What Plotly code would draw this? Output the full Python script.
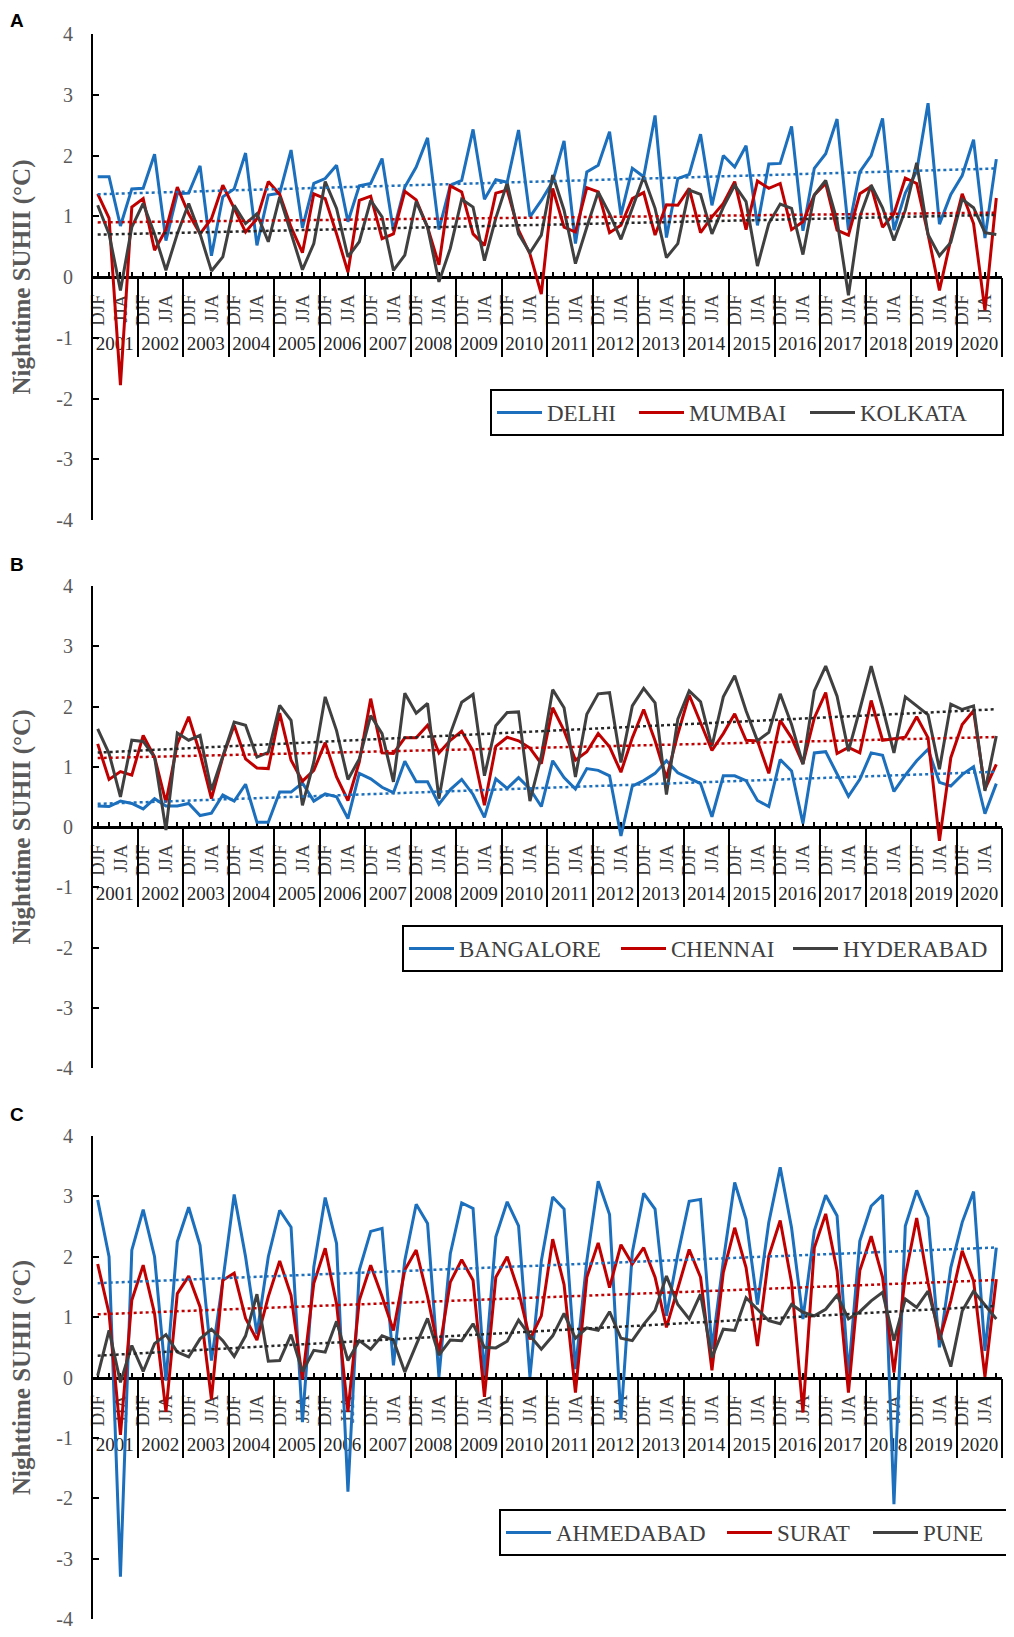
import numpy as np
import plotly.graph_objects as go

# x categories: four seasons per year, only DJF and JJA are labelled
YEARS = [str(y) for y in range(2001, 2021)]
SEASONS = ["DJF", "MAM", "JJA", "SON"]
LABELLED_SEASONS = ["DJF", "JJA"]
Y_TICKS = [-4, -3, -2, -1, 0, 1, 2, 3, 4]

# nighttime SUHII (deg C), one value per season, DJF 2001 ... SON 2020
DELHI = [1.65, 1.65, 0.84, 1.45, 1.46, 2.02, 0.60, 1.37, 1.38, 1.83, 0.35, 1.32, 1.45, 2.04, 0.52, 1.35,
         1.38, 2.09, 0.81, 1.54, 1.62, 1.84, 0.91, 1.50, 1.54, 1.95, 0.76, 1.48, 1.81, 2.29, 0.78, 1.51,
         1.59, 2.43, 1.28, 1.60, 1.56, 2.42, 0.99, 1.26, 1.57, 2.24, 0.55, 1.73, 1.84, 2.39, 1.02, 1.79,
         1.65, 2.66, 0.65, 1.62, 1.69, 2.35, 1.18, 2.00, 1.81, 2.16, 0.85, 1.86, 1.87, 2.48, 0.76, 1.79,
         2.03, 2.60, 0.77, 1.73, 2.00, 2.61, 0.77, 1.38, 1.74, 2.86, 0.87, 1.36, 1.67, 2.26, 0.64, 1.94]
MUMBAI = [1.37, 0.97, -1.78, 1.15, 1.29, 0.44, 0.78, 1.48, 1.04, 0.71, 0.96, 1.51, 1.13, 0.74, 0.96, 1.57,
          1.36, 0.82, 0.40, 1.37, 1.29, 0.71, 0.08, 1.26, 1.33, 0.63, 0.71, 1.41, 1.27, 0.82, 0.20, 1.50,
          1.40, 0.71, 0.52, 1.38, 1.43, 0.77, 0.38, -0.28, 1.46, 0.82, 0.74, 1.47, 1.40, 0.73, 0.85, 1.29,
          1.39, 0.69, 1.19, 1.18, 1.46, 0.73, 0.99, 1.21, 1.57, 0.78, 1.58, 1.46, 1.54, 0.78, 0.91, 1.35,
          1.54, 0.77, 0.69, 1.37, 1.49, 0.82, 1.04, 1.63, 1.54, 0.70, -0.22, 0.62, 1.37, 0.88, -0.55, 1.30]
KOLKATA = [1.18, 0.71, -0.22, 0.82, 1.21, 0.71, 0.11, 0.71, 1.21, 0.71, 0.10, 0.33, 1.18, 0.88, 1.04, 0.58,
           1.32, 0.71, 0.12, 0.55, 1.57, 1.13, 0.33, 0.58, 1.26, 0.99, 0.11, 0.36, 1.24, 0.82, -0.08, 0.47,
           1.28, 1.15, 0.27, 0.97, 1.55, 0.71, 0.40, 0.69, 1.68, 1.10, 0.22, 0.82, 1.40, 1.04, 0.62, 1.13,
           1.65, 1.13, 0.32, 0.55, 1.43, 1.36, 0.71, 1.15, 1.51, 1.24, 0.18, 0.88, 1.20, 1.13, 0.37, 1.35,
           1.59, 0.93, -0.30, 0.99, 1.51, 1.14, 0.60, 1.10, 1.88, 0.70, 0.35, 0.57, 1.28, 1.14, 0.73, 0.70]

BANGALORE = [0.35, 0.34, 0.43, 0.39, 0.30, 0.47, 0.35, 0.35, 0.39, 0.19, 0.23, 0.53, 0.43, 0.71, 0.08, 0.08,
             0.58, 0.58, 0.73, 0.43, 0.55, 0.50, 0.14, 0.89, 0.80, 0.66, 0.57, 1.09, 0.75, 0.75, 0.38, 0.62,
             0.79, 0.54, 0.16, 0.80, 0.64, 0.82, 0.63, 0.34, 1.10, 0.82, 0.63, 0.97, 0.94, 0.85, -0.15, 0.68,
             0.77, 0.89, 1.10, 0.90, 0.81, 0.72, 0.17, 0.85, 0.85, 0.77, 0.44, 0.34, 1.12, 0.93, 0.06, 1.23,
             1.25, 0.87, 0.51, 0.79, 1.23, 1.19, 0.59, 0.86, 1.10, 1.29, 0.74, 0.68, 0.87, 1.00, 0.22, 0.72]
CHENNAI = [1.38, 0.79, 0.92, 0.86, 1.52, 1.16, 0.41, 1.38, 1.83, 1.22, 0.47, 1.16, 1.69, 1.13, 0.98, 0.97,
           1.89, 1.11, 0.76, 0.94, 1.40, 0.83, 0.44, 1.08, 2.13, 1.23, 1.22, 1.48, 1.48, 1.69, 1.23, 1.44,
           1.59, 1.26, 0.36, 1.34, 1.49, 1.43, 1.31, 1.05, 1.98, 1.60, 1.11, 1.25, 1.55, 1.33, 0.91, 1.48,
           1.95, 1.43, 0.81, 1.54, 2.19, 1.73, 1.27, 1.55, 1.88, 1.44, 1.43, 0.89, 1.77, 1.48, 1.05, 1.81,
           2.23, 1.22, 1.32, 1.23, 2.10, 1.44, 1.47, 1.49, 1.83, 1.48, -0.23, 1.15, 1.70, 1.93, 0.63, 1.04]
HYDERABAD = [1.63, 1.22, 0.50, 1.44, 1.42, 1.16, -0.05, 1.56, 1.44, 1.52, 0.61, 1.16, 1.74, 1.69, 1.16, 1.24,
             2.02, 1.77, 0.36, 1.08, 2.16, 1.60, 0.79, 1.13, 1.85, 1.55, 0.75, 2.22, 1.89, 2.05, 0.47, 1.55,
             2.07, 2.20, 0.85, 1.68, 1.90, 1.91, 0.43, 1.18, 2.28, 1.98, 0.83, 1.87, 2.21, 2.23, 1.07, 2.01,
             2.30, 2.06, 0.54, 1.79, 2.26, 2.08, 1.34, 2.16, 2.51, 1.93, 1.43, 1.57, 2.21, 1.70, 1.04, 2.26,
             2.67, 2.17, 1.26, 1.95, 2.67, 1.98, 1.23, 2.16, 2.01, 1.86, 0.96, 2.04, 1.95, 2.01, 0.60, 1.51]

AHMEDABAD = [2.94, 2.00, -3.30, 2.11, 2.78, 2.00, -0.05, 2.25, 2.82, 2.19, 0.28, 1.60, 3.03, 2.00, 0.72, 2.00,
             2.77, 2.49, -0.74, 1.83, 2.98, 2.22, -1.89, 1.78, 2.42, 2.47, 0.20, 1.94, 2.87, 2.55, 0.01, 2.05,
             2.89, 2.80, 0.03, 2.33, 2.91, 2.51, 0.01, 1.93, 2.99, 2.79, 0.14, 1.93, 3.25, 2.70, -0.69, 2.07,
             3.05, 2.79, 1.02, 2.04, 2.92, 2.95, 0.47, 1.93, 3.23, 2.62, 1.21, 2.57, 3.48, 2.48, 0.97, 2.43,
             3.02, 2.68, 0.05, 2.26, 2.84, 3.02, -2.10, 2.51, 3.10, 2.65, 0.50, 1.82, 2.57, 3.08, 0.44, 2.15]
SURAT = [1.88, 1.06, -0.95, 1.28, 1.86, 1.06, -0.57, 1.39, 1.68, 1.17, -0.36, 1.61, 1.73, 0.98, 0.62, 1.34,
         1.93, 1.36, -0.03, 1.56, 2.14, 1.22, -0.57, 1.28, 1.86, 1.34, 0.78, 1.78, 2.11, 1.34, 0.42, 1.58,
         1.95, 1.61, -0.32, 1.66, 2.00, 1.43, 0.63, 1.02, 2.29, 1.54, -0.25, 1.66, 2.23, 1.49, 2.20, 1.88,
         2.15, 1.66, 0.83, 1.49, 2.12, 1.66, 0.12, 1.74, 2.48, 1.82, 0.52, 2.01, 2.60, 1.57, -0.58, 2.15,
         2.71, 1.77, -0.25, 1.77, 2.34, 1.66, 0.08, 1.68, 2.64, 1.57, 0.63, 1.27, 2.10, 1.60, 0.01, 1.63]
PUNE = [0.03, 0.78, -0.08, 0.53, 0.10, 0.56, 0.71, 0.42, 0.34, 0.64, 0.80, 0.61, 0.35, 0.69, 1.38, 0.27,
        0.28, 0.71, 0.10, 0.45, 0.42, 0.93, 0.28, 0.61, 0.47, 0.69, 0.62, 0.09, 0.54, 0.98, 0.37, 0.62,
        0.61, 0.89, 0.50, 0.49, 0.60, 0.95, 0.69, 0.47, 0.69, 1.06, 0.65, 0.82, 0.78, 1.09, 0.65, 0.61,
        0.88, 1.11, 1.68, 1.21, 0.97, 1.38, 0.33, 0.80, 0.78, 1.32, 1.13, 0.94, 0.89, 1.21, 1.08, 1.02,
        1.13, 1.36, 0.97, 1.09, 1.27, 1.41, 0.61, 1.30, 1.16, 1.43, 0.74, 0.18, 1.10, 1.43, 1.20, 0.97]

PANELS = [
    ("A", ["DELHI", "MUMBAI", "KOLKATA"], [DELHI, MUMBAI, KOLKATA]),
    ("B", ["BANGALORE", "CHENNAI", "HYDERABAD"], [BANGALORE, CHENNAI, HYDERABAD]),
    ("C", ["AHMEDABAD", "SURAT", "PUNE"], [AHMEDABAD, SURAT, PUNE]),
]

COLORS = ["#1b6fbc", "#c00000", "#404040"]
TREND_COLORS = ["#1b6fbc", "#c00000", "#262626"]

# the page body has an 8px margin, so figure pixels = screen pixels - 8
OFF = 8
W, H = 1014 - OFF, 1637 - OFF
X0, X1 = 92, 1002                                        # plot left / right (screen px)
PANEL_PX = [(34, 520), (586, 1068), (1136, 1619)]        # y axis top / bottom (screen px)
LEGEND_PX = [(490, 389), (402, 925), (499, 1509)]        # legend box left / top (screen px)
LEGEND_ENTRY_PX = [[82, 111, 137], [152, 112, 153], [161, 86, 84]]  # text slot per legend entry
LABEL_PX = [8, 552, 1102]                                # panel letter tops (screen px)
SERIF = "Liberation Serif"


def fx(px):
    return (px - OFF) / W


def fy(px):
    return 1 - (px - OFF) / H


# category positions
periods = [(y, s) for y in YEARS for s in SEASONS]
idx = np.arange(len(periods))
season_pos = [i for i, (_, s) in enumerate(periods) if s in LABELLED_SEASONS]
season_txt = [s for (_, s) in periods if s in LABELLED_SEASONS]
year_mid = [i * len(SEASONS) + (len(SEASONS) - 1) / 2 for i in range(len(YEARS))]
year_edges = [i * len(SEASONS) - 0.5 for i in range(len(YEARS) + 1)]
xrange_ = [-0.5, len(periods) - 0.5]

fig = go.Figure()
layout = dict(
    width=W, height=H,
    margin=dict(l=0, r=0, t=0, b=0, autoexpand=False),
    plot_bgcolor="white", paper_bgcolor="white",
    showlegend=True,
    annotations=[],
)

for k, (letter, names, series) in enumerate(PANELS, start=1):
    top, bot = PANEL_PX[k - 1]
    d0, d1 = fy(bot), fy(top)
    zero = (d0 + d1) / 2
    xa = "x" if k == 1 else f"x{k}"
    xb = f"x{k + 3}"
    ya = "y" if k == 1 else f"y{k}"
    leg = "legend" if k == 1 else f"legend{k}"

    for name, vals, col, lw in zip(names, series, COLORS, LEGEND_ENTRY_PX[k - 1]):
        fig.add_trace(go.Scatter(
            x=idx, y=vals, mode="lines", name=name,
            line=dict(color=col, width=3),
            xaxis=xa, yaxis=ya, legend=leg, legendwidth=lw,
        ))
    for vals, col in zip(series, TREND_COLORS):
        slope, icpt = np.polyfit(idx, vals, 1)
        fig.add_trace(go.Scatter(
            x=idx, y=slope * idx + icpt, mode="lines",
            line=dict(color=col, width=2.5, dash="dot"),
            xaxis=xb, yaxis=ya, showlegend=False, hoverinfo="skip",
        ))

    layout[f"yaxis{k}"] = dict(
        domain=[d0, d1], range=[-4, 4], anchor="free", position=fx(X0),
        tickmode="array", tickvals=Y_TICKS, ticktext=[str(v) for v in Y_TICKS],
        ticks="inside", ticklen=6, tickwidth=2, tickcolor="black",
        showline=True, linecolor="black", linewidth=2,
        showgrid=False, zeroline=False,
        tickfont=dict(family=SERIF, size=20, color="#595959"),
        ticklabelstandoff=14,
        title=dict(text="Nighttime SUHII (°C)", standoff=32,
                   font=dict(family=SERIF, size=25, color="#595959", weight="bold")),
    )
    layout[f"xaxis{k}"] = dict(
        domain=[fx(X0), fx(X1)], range=xrange_, anchor="free", position=zero,
        showline=True, linecolor="black", linewidth=2.5,
        tickmode="array", tickvals=season_pos, ticktext=season_txt, tickangle=-90,
        ticks="inside", ticklen=4, tickwidth=1.5, tickcolor="black",
        minor=dict(tickmode="array", tickvals=list(idx), ticks="inside",
                   ticklen=4, tickwidth=1.5, tickcolor="black"),
        tickfont=dict(family=SERIF, size=19, color="#404040"),
        ticklabelstandoff=8, showgrid=False, zeroline=False, layer="below traces",
    )
    layout[f"xaxis{k + 3}"] = dict(
        overlaying=xa, range=xrange_, anchor="free", position=zero,
        showline=False, tickmode="array", tickvals=year_mid, ticktext=YEARS,
        ticks="", tickfont=dict(family=SERIF, size=19, color="#262626"),
        ticklabelstandoff=53,
        minor=dict(tickmode="array", tickvals=year_edges, ticks="outside",
                   ticklen=79, tickwidth=2, tickcolor="black"),
        showgrid=False, zeroline=False, layer="below traces",
    )
    lx, ty = LEGEND_PX[k - 1]
    layout[leg] = dict(
        orientation="h", x=fx(lx), y=fy(ty), xanchor="left", yanchor="top",
        bordercolor="black", borderwidth=2, bgcolor="white",
        font=dict(family=SERIF, size=23, color="#404040"),
        itemwidth=45,
    )
    layout["annotations"].append(dict(
        text=letter, x=fx(OFF), y=fy(LABEL_PX[k - 1]), xref="paper", yref="paper",
        xanchor="left", yanchor="top", showarrow=False,
        font=dict(family="Liberation Sans", size=19, color="black", weight="bold"),
    ))

fig.update_layout(**layout)
fig.write_html("out.html")
